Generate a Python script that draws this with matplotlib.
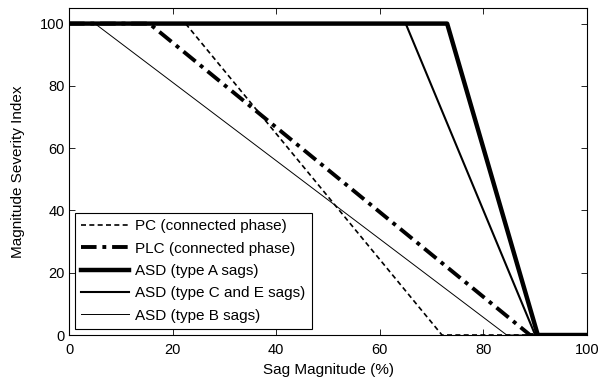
import matplotlib
matplotlib.use("Agg")
import matplotlib.pyplot as plt

plt.rcParams['font.family'] = ['Liberation Sans', 'DejaVu Sans']

# Breakpoints (sag magnitude %, severity index) for each indicator
pc_x = [0, 22.5, 72, 100]
pc_y = [100, 100, 0, 0]
plc_x = [0, 15.5, 89, 100]
plc_y = [100, 100, 0, 0]
asd_a_x = [0, 73, 90.5, 100]
asd_a_y = [100, 100, 0, 0]
asd_ce_x = [0, 65, 90, 100]
asd_ce_y = [100, 100, 0, 0]
asd_b_x = [0, 5, 84.5, 100]
asd_b_y = [100, 100, 0, 0]

labels = ['PC (connected phase)', 'PLC (connected phase)', 'ASD (type A sags)',
          'ASD (type C and E sags)', 'ASD (type B sags)']
x_ticks = [0, 20, 40, 60, 80, 100]
y_ticks = [0, 20, 40, 60, 80, 100]

fig = plt.figure(figsize=(5.98, 3.8), dpi=100)
ax = fig.add_axes([0.1154, 0.1184, 0.8662, 0.8605])

ax.plot(pc_x, pc_y, color='black', linestyle=(0, (3, 2)), linewidth=1.2, label=labels[0])
ax.plot(plc_x, plc_y, color='black', linestyle=(0, (4, 1.5, 1, 1.5)), linewidth=2.8, label=labels[1])
ax.plot(asd_a_x, asd_a_y, color='black', linestyle='-', linewidth=3.2, label=labels[2])
ax.plot(asd_ce_x, asd_ce_y, color='black', linestyle='-', linewidth=1.5, label=labels[3])
ax.plot(asd_b_x, asd_b_y, color='black', linestyle='-', linewidth=0.7, label=labels[4])

ax.set_xlim(0, 100)
ax.set_ylim(0, 105)
ax.set_xticks(x_ticks)
ax.set_yticks(y_ticks)
ax.tick_params(direction='in', top=True, right=True, labelsize=10.5, length=4,
               width=0.6, pad=3)
ax.tick_params(axis='x', pad=6)
for s in ax.spines.values():
    s.set_linewidth(0.8)

ax.set_xlabel('Sag Magnitude (%)', fontsize=11, labelpad=4)
ax.set_ylabel('Magnitude Severity Index', fontsize=11, labelpad=11)

leg = ax.legend(loc='lower left', fontsize=11, frameon=True, fancybox=False,
                edgecolor='black', framealpha=1, borderaxespad=0.4,
                handlelength=3.1, handletextpad=0.45, labelspacing=0.55,
                borderpad=0.4)
leg.get_frame().set_linewidth(0.8)

fig.savefig('out.png', dpi=100)
